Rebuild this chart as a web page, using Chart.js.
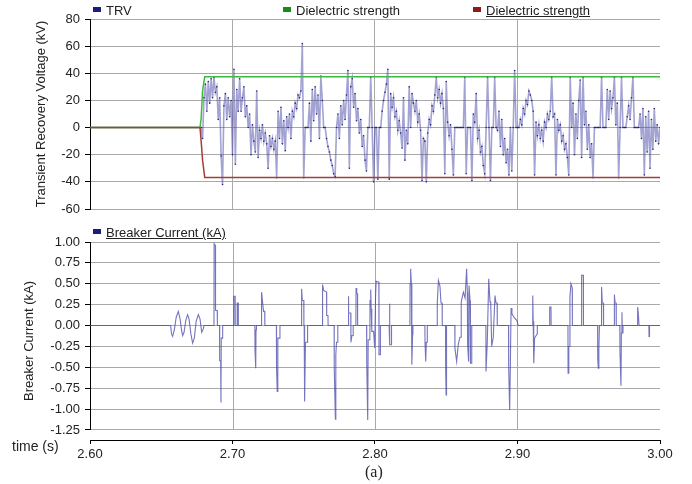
<!DOCTYPE html>
<html>
<head>
<meta charset="utf-8">
<script src="https://cdn.jsdelivr.net/npm/chart.js@4.4.1/dist/chart.umd.min.js"></script>
<style>
  body { margin: 0; background: #fff; font-family: "Liberation Sans", Arial, sans-serif; color: #222; }
  #wrap { position: relative; width: 692px; height: 484px; overflow: hidden; }
  canvas { position: absolute; left: 0; }
  .lg { position: absolute; font-size: 13px; line-height: 14px; white-space: nowrap; }
  .lg i { display: inline-block; width: 8px; height: 5px; margin-right: 5px; vertical-align: 3px; }
  .u { text-decoration: underline; }
</style>
</head>
<body>
<div id="wrap">
  <canvas id="trvChart" width="692" height="222" style="top:0"></canvas>
  <canvas id="currentChart" width="692" height="262" style="top:222px"></canvas>

  <div class="lg" style="left:93px;top:4px"><i style="background:#1c1c7c"></i>TRV</div>
  <div class="lg" style="left:283px;top:4px"><i style="background:#1a8a1a"></i>Dielectric strength</div>
  <div class="lg" style="left:473px;top:4px"><i style="background:#8b1a1a"></i><span class="u">Dielectric strength</span></div>
  <div class="lg" style="left:93px;top:226px"><i style="background:#1c1c7c"></i><span class="u">Breaker Current (kA)</span></div>
  <div class="lg" style="left:12px;top:439px;font-size:14px">time (s)</div>
  <div class="lg" style="left:365px;top:463px;font-size:16px;line-height:18px;font-family:'Liberation Serif','Times New Roman',serif">(a)</div>
</div>

<script>
// --- data ---
// dielectric strength envelope (kV)
const dielTime  = [2.600, 2.6772, 2.678, 2.679, 2.6805, 3.000];
const dielUpper = [0, 0, 6.6, 27, 37.5, 37.5];
const dielLower = [0, 0, -10, -24, -36.7, -36.7];

// TRV (kV), sampled every 1 ms from 2.678 s
const trvStart = 2.678;
const trvStep = 0.001;
const trvValues = [
  0, -8, 22, 32, 12, 34, 18, 36, 22, 37,
  26, 30, 6, 22, -21, -42, 16, 25, 6, 22,
  8, 20, -20, 43, -27, 28, 12, 36, 12, 22,
  30, 8, 16, 0, 10, -20, 2, -10, -18, 27,
  -22, -2, -8, 2, -10, -4, -12, -30, -6, -14,
  -8, -16, -10, -37, 12, -8, 15, -12, 5, -17,
  8, 0, 10, -8, 12, 8, 18, 14, 24, 22,
  27, 62, -37, 0, 0, 0, 18, -10, 28, 5,
  30, 10, 24, -8, 38, 20, 0, 0, -8, -14,
  -18, -24, -28, -34, -36, 0, 10, -8, 16, 2,
  20, 6, 24, 42, -30, 30, 36, 15, 25, 5,
  14, -4, 6, -14, -6, -24, -32, 0, 0, 37,
  0, -40, 0, 0, -38, 0, 0, 12, 20, 26,
  32, 43, -38, 25, 15, 22, 8, 12, -2, 5,
  -4, -15, 22, -24, -2, -12, 30, 0, 25, 18,
  12, 20, 4, 10, -2, -39, -8, -10, -40, -4,
  6, 2, 16, 12, 24, 37, 22, 28, 18, 25,
  14, -34, 34, 4, -6, 2, -16, -35, 0, 0,
  0, 0, 0, 0, 0, 37, -34, 0, 0, 0,
  -39, 10, 4, 25, -8, -2, -18, -14, -28, -34,
  0, 37, 0, -39, 0, 0, 37, 0, -2, 12,
  -14, 6, -20, -8, -26, -16, -35, 0, -32, 0,
  42, 0, 0, 0, 6, 2, 14, 10, 20, 17,
  27, 24, 20, 12, -35, 4, -6, 2, -8, -2,
  -10, 4, 0, 10, 6, 12, 37, 8, 10, -35,
  6, -2, 2, -10, -6, -16, -12, -22, -35, 37,
  0, 18, -20, 10, -8, 20, 35, -22, 37, 2,
  12, -16, 2, -22, -12, -37, 0, 0, 0, 0,
  0, 37, 0, 0, 0, 28, 6, 27, 14, 22,
  37, 2, 18, -37, 0, 37, 0, 0, 0, 8,
  16, 6, 22, 37, 0, 0, 0, 0, 10, -8,
  14, -35, 8, -18, 12, -30, 6, -16, 14, -10,
  2, -12, 0
];

// breaker current samples [time s, kA]
const currentSamples = [
  [2.600, 0], [2.6566, 0], [2.6572, -0.10], [2.6580, -0.13], [2.6592, -0.05], [2.6605, 0.10],
  [2.6620, 0.17], [2.6632, 0.08], [2.6642, -0.05], [2.6650, -0.12], [2.6660, -0.08], [2.6672, 0.06],
  [2.6685, 0.13], [2.6695, 0.08], [2.6708, -0.10], [2.6720, -0.21], [2.6732, -0.15], [2.6745, 0.05],
  [2.6760, 0.13], [2.6772, 0.08], [2.6784, -0.08], [2.6795, -0.04], [2.6800, 0],
  [2.6870, 0], [2.6871, 0.98], [2.6880, 0.96], [2.6881, 0.18], [2.6893, 0.18], [2.6894, 0],
  [2.6909, 0], [2.6910, -0.42], [2.6917, -0.42], [2.6919, -0.92], [2.6921, -0.15], [2.6930, -0.15], [2.6931, 0],
  [2.7008, 0], [2.7009, 0.35], [2.7018, 0.35], [2.7019, 0], [2.7032, 0], [2.7033, 0.27], [2.7040, 0.27], [2.7041, 0],
  [2.7157, 0], [2.7158, -0.30], [2.7163, -0.51], [2.7165, -0.05], [2.7168, 0],
  [2.7203, 0], [2.7204, 0.40], [2.7210, 0.30], [2.7218, 0.17], [2.7226, 0.17], [2.7227, 0],
  [2.7308, 0], [2.7309, -0.50], [2.7314, -0.79], [2.7318, -0.15], [2.7332, -0.15], [2.7333, 0],
  [2.7484, 0], [2.7485, 0.44], [2.7490, 0.30], [2.7500, 0.30], [2.7501, 0], [2.7503, 0], [2.7504, -0.50],
  [2.7508, -0.91], [2.7512, -0.20], [2.7526, -0.20], [2.7527, 0],
  [2.7631, 0], [2.7632, 0.49], [2.7640, 0.42], [2.7660, 0.40], [2.7661, 0.12], [2.7670, 0.12], [2.7671, 0],
  [2.7713, 0], [2.7714, -0.50], [2.7722, -1.12], [2.7725, -0.35], [2.7730, -0.20], [2.7738, -0.20], [2.7739, 0],
  [2.7811, 0], [2.7812, 0.35], [2.7817, 0.15], [2.7830, 0.15], [2.7831, -0.20], [2.7838, -0.12], [2.7846, -0.12], [2.7847, 0],
  [2.7866, 0], [2.7867, 0.45], [2.7872, 0.38], [2.7877, 0.38], [2.7878, 0],
  [2.7941, 0], [2.7942, -0.45], [2.7949, -1.13], [2.7952, -0.17], [2.7964, -0.17], [2.7965, 0.30], [2.7970, 0.43],
  [2.7973, 0.20], [2.7977, 0.20], [2.7978, -0.07], [2.7990, -0.07], [2.7998, -0.27], [2.8004, 0.35], [2.8008, 0.53],
  [2.8027, 0.52], [2.8028, -0.35], [2.8037, -0.35], [2.8038, 0],
  [2.8099, 0], [2.8100, 0.26], [2.8104, 0.05], [2.8105, -0.23], [2.8115, -0.23], [2.8116, 0],
  [2.8245, 0], [2.8246, 0.50], [2.8250, 0.68], [2.8255, 0.50], [2.8258, 0.50], [2.8259, -0.47], [2.8264, -0.10], [2.8266, 0],
  [2.8350, 0], [2.8351, -0.20], [2.8356, -0.43], [2.8360, -0.20], [2.8366, -0.20], [2.8367, 0],
  [2.8436, 0], [2.8437, 0.27], [2.8445, 0.54], [2.8456, 0.47], [2.8463, 0.27], [2.8471, 0.27], [2.8472, 0],
  [2.8495, 0], [2.8496, -0.55], [2.8499, -0.83], [2.8502, 0],
  [2.8560, 0], [2.8561, -0.27], [2.8573, -0.43], [2.8584, -0.23], [2.8596, -0.14], [2.8604, -0.14], [2.8605, 0.28],
  [2.8620, 0.40], [2.8632, 0.33], [2.8643, 0.68], [2.8648, 0.40], [2.8650, -0.23], [2.8657, -0.43], [2.8660, 0.48],
  [2.8667, 0.30], [2.8670, -0.45], [2.8678, -0.45], [2.8679, 0],
  [2.8778, 0], [2.8779, -0.55], [2.8788, -0.20], [2.8798, 0.56], [2.8807, 0.28], [2.8812, 0.28], [2.8819, -0.25],
  [2.8830, -0.14], [2.8842, 0.36], [2.8849, 0.27], [2.8857, 0.27], [2.8858, 0],
  [2.8937, 0], [2.8938, -0.50], [2.8945, -1.01], [2.8950, -0.45], [2.8955, 0.21], [2.8961, 0.14], [2.8975, 0.10],
  [2.8996, 0.06], [2.9005, 0],
  [2.9106, 0], [2.9107, 0.36], [2.9110, 0.05], [2.9114, -0.45], [2.9120, -0.15], [2.9138, -0.10], [2.9139, 0],
  [2.9225, 0], [2.9226, 0.22], [2.9235, 0.22], [2.9236, 0],
  [2.9354, 0], [2.9355, -0.57], [2.9360, -0.25], [2.9367, -0.25], [2.9368, 0.34], [2.9375, 0.50], [2.9384, 0.45], [2.9385, 0],
  [2.9449, 0], [2.9450, 0.60], [2.9462, 0.60], [2.9463, 0],
  [2.9562, 0], [2.9563, -0.39], [2.9567, -0.51], [2.9571, -0.30], [2.9575, 0],
  [2.9589, 0], [2.9590, 0.46], [2.9595, 0.27], [2.9603, 0.27], [2.9604, 0],
  [2.9679, 0], [2.9680, 0.37], [2.9685, 0.27], [2.9692, 0.27], [2.9693, 0],
  [2.9718, 0], [2.9719, -0.30], [2.9726, -0.72], [2.9729, -0.09], [2.9733, 0.16], [2.9736, -0.09], [2.9740, 0],
  [2.9842, 0], [2.9843, 0.22], [2.9848, 0.15], [2.9852, 0.15], [2.9853, 0],
  [2.9922, 0], [2.9923, -0.13], [2.9926, -0.13], [2.9927, 0],
  [3.000, 0]
];

// axis ticks
const timeMin = 2.6, timeMax = 3.0, timeStep = 0.1;
const trvTicks = { min: -60, max: 80, step: 20 };
const currentTickValues = [-1.25, -1.0, -0.75, -0.5, -0.25, 0, 0.25, 0.5, 0.75, 1.0];

// --- chart setup ---
const gridGray = '#a9a9a9';
const tickFont = { family: '"Liberation Sans", Arial, sans-serif', size: 13 };
const innerTime = v => v > timeMin + 0.05 && v < timeMax - 0.05;
const currentMin = currentTickValues[0];
const currentMax = currentTickValues[currentTickValues.length - 1];

const trvPoints = [{ x: timeMin, y: 0 }].concat(
  trvValues.map((v, i) => ({ x: trvStart + i * trvStep, y: v })));
const upperPoints = dielTime.map((t, i) => ({ x: t, y: dielUpper[i] }));
const lowerPoints = dielTime.map((t, i) => ({ x: t, y: dielLower[i] }));
const currentPoints = currentSamples.map(([t, a]) => ({ x: t, y: a }));

new Chart(document.getElementById('trvChart'), {
  type: 'line',
  data: {
    datasets: [
      { data: lowerPoints, borderColor: '#a83c3c', borderWidth: 1.5, pointRadius: 0 },
      { data: upperPoints, borderColor: '#3fba3f', borderWidth: 1.5, pointRadius: 0 },
      {
        data: trvPoints, borderColor: 'rgba(72,72,168,0.5)', borderWidth: 1.6,
        pointRadius: 0.8, pointBorderWidth: 0, pointBackgroundColor: '#22227a'
      }
    ]
  },
  options: {
    responsive: false,
    animation: false,
    layout: { padding: { left: 0, right: 32, top: 19, bottom: 13 } },
    plugins: { legend: { display: false }, tooltip: { enabled: false } },
    scales: {
      x: {
        type: 'linear', min: timeMin, max: timeMax,
        ticks: { display: false, stepSize: timeStep },
        border: { display: false },
        grid: { drawTicks: false, color: ctx => innerTime(ctx.tick.value) ? gridGray : 'transparent' },
        afterFit: s => { s.height = 0; }
      },
      y: {
        min: trvTicks.min, max: trvTicks.max,
        ticks: { stepSize: trvTicks.step, padding: 5, color: '#222', font: tickFont },
        border: { color: '#000' },
        grid: { color: gridGray, tickLength: 5, tickColor: '#000' },
        title: {
          display: true, text: 'Transient Recovery Voltage (kV)', color: '#222',
          font: tickFont, padding: { top: 34, bottom: 0 }
        },
        afterFit: s => { s.width = 90; }
      }
    }
  }
});

// vertical grid + left axis limited to the tick range
const currentFrame = {
  id: 'currentFrame',
  beforeDatasetsDraw(chart) {
    const { ctx, scales: { x, y }, chartArea } = chart;
    const yTop = y.getPixelForValue(currentMax);
    const yBot = y.getPixelForValue(currentMin);
    ctx.save();
    ctx.lineWidth = 1;
    ctx.strokeStyle = gridGray;
    x.ticks.forEach(t => {
      if (!innerTime(t.value)) return;
      const px = Math.round(x.getPixelForValue(t.value)) + 0.5;
      ctx.beginPath(); ctx.moveTo(px, yTop); ctx.lineTo(px, yBot); ctx.stroke();
    });
    ctx.strokeStyle = '#000';
    const lx = Math.round(chartArea.left) + 0.5;
    ctx.beginPath(); ctx.moveTo(lx, yTop); ctx.lineTo(lx, yBot); ctx.stroke();
    ctx.restore();
  }
};

new Chart(document.getElementById('currentChart'), {
  type: 'line',
  data: {
    datasets: [
      { data: currentPoints, borderColor: 'rgba(70,70,170,0.75)', borderWidth: 1.1, pointRadius: 0 }
    ]
  },
  options: {
    responsive: false,
    animation: false,
    layout: { padding: { left: 0, right: 32, top: 20, bottom: 20 } },
    plugins: { legend: { display: false }, tooltip: { enabled: false } },
    scales: {
      x: {
        type: 'linear', min: timeMin, max: timeMax,
        ticks: { stepSize: timeStep, padding: 3, color: '#222', font: tickFont, maxRotation: 0,
                 callback: v => v.toFixed(2) },
        border: { color: '#000' },
        grid: { color: 'transparent', tickLength: 4, tickColor: '#000' },
        afterFit: s => { s.height = 24; }
      },
      y: {
        min: -1.37, max: currentMax,
        ticks: { padding: 5, color: '#222', font: tickFont, callback: v => v.toFixed(2) },
        afterBuildTicks: s => { s.ticks = currentTickValues.map(v => ({ value: v })); },
        border: { display: false },
        grid: { color: gridGray, tickLength: 5, tickColor: '#000' },
        title: {
          display: true, text: 'Breaker Current (kA)', color: '#222',
          font: tickFont, padding: { top: 22, bottom: 0 }
        },
        afterFit: s => { s.width = 90; }
      }
    }
  },
  plugins: [currentFrame]
});
</script>
</body>
</html>
